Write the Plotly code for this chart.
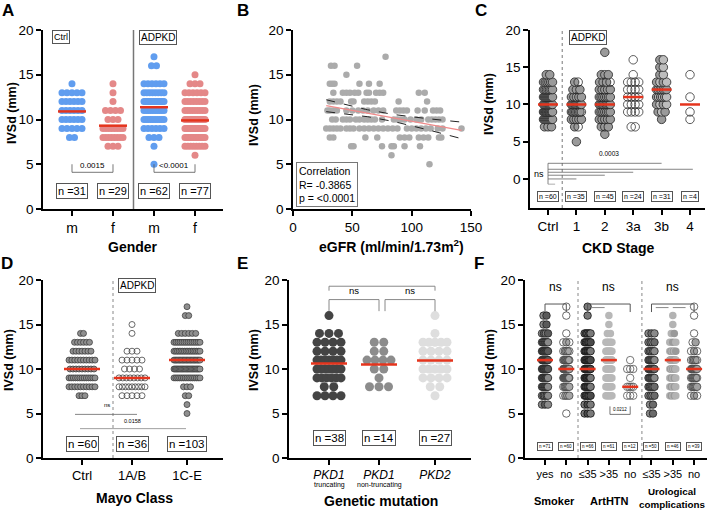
import numpy as np
import plotly.graph_objects as go

# ======================= DATA =======================
# IVSd value (mm) : number of patients
# Panel A – gender
a_ctrl_m = {14: 1, 13: 5, 12: 6, 11: 6, 10: 6, 9: 5, 8: 2}
a_ctrl_f = {14: 1, 13: 1, 12: 1, 11: 4, 10: 3, 9: 8, 8: 8, 7: 3}
a_adpkd_m = {17: 1, 16: 2, 14: 6, 13: 8, 12: 14, 11: 10, 10: 10, 9: 6, 8: 3, 7: 1, 5: 1}
a_adpkd_f = {15: 1, 14: 3, 13: 6, 12: 8, 11: 9, 10: 14, 9: 14, 8: 13, 7: 8, 6: 1}
a_ticks = ["m", "f", "m", "f"]
a_n = ["n =31", "n =29", "n =62", "n =77"]
a_p = ["0.0015", "&lt;0.0001"]

# Panel B – IVSd row : eGFR values
b_rows = {
    17: [78],
    16: [32, 35, 54],
    15: [45],
    14: [31, 33, 35, 56, 64, 73],
    13: [34, 42, 45, 48, 52, 55, 62, 64, 70, 73, 76, 106, 111],
    12: [31, 34, 37, 40, 49, 51, 60, 63, 66, 69, 89, 113],
    11: [29, 31, 34, 37, 45, 50, 55, 59, 63, 68, 72, 76, 87, 90, 93, 96, 105, 111, 118, 121, 124],
    10: [33, 36, 42, 45, 48, 53, 56, 60, 63, 66, 69, 75, 85, 88, 91, 94, 99, 104, 108, 114, 117, 120, 123, 126],
    9: [28, 31, 34, 37, 40, 45, 48, 51, 56, 60, 64, 68, 72, 76, 80, 84, 88, 96, 100, 104, 108, 112, 116, 122, 126, 142],
    8: [31, 34, 61, 71, 90, 94, 98, 106, 110, 114, 123, 125],
    7: [49, 51, 75, 83, 85, 94, 107],
    6: [83],
    5: [115],
}
b_stats = "Correlation<br>R= -0.3865<br>p = &lt;0.0001"

# Panel C – CKD stage
c_ctrl = {14: 2, 13: 6, 12: 7, 11: 10, 10: 9, 9: 13, 8: 10, 7: 3}
c_stage1 = {13: 2, 12: 3, 11: 5, 10: 9, 9: 8, 8: 5, 7: 2, 5: 1}
c_stage2 = {17: 1, 14: 3, 13: 4, 12: 5, 11: 7, 10: 9, 9: 7, 8: 5, 7: 3, 6: 1}
c_stage3a = {16: 1, 14: 1, 13: 4, 12: 4, 11: 4, 10: 4, 9: 4, 7: 2}
c_stage3b = {16: 2, 15: 2, 14: 2, 13: 4, 12: 7, 11: 6, 10: 4, 9: 3, 8: 1}
c_stage4 = {14: 1, 11: 1, 9: 1, 8: 1}
c_ticks = ["Ctrl", "1", "2", "3a", "3b", "4"]
c_n = ["n =60", "n =35", "n =45", "n =24", "n =31", "n =4"]

# Panel D – Mayo class
d_ctrl = {14: 2, 13: 6, 12: 7, 11: 10, 10: 9, 9: 13, 8: 10, 7: 3}
d_1ab = {15: 1, 14: 1, 12: 3, 11: 5, 10: 4, 9: 8, 8: 9, 7: 5}
d_1ce = {17: 1, 16: 2, 14: 6, 13: 14, 12: 16, 11: 20, 10: 22, 9: 15, 8: 3, 7: 2, 6: 1, 5: 1}
d_ticks = ["Ctrl", "1A/B", "1C-E"]
d_n = ["n =60", "n =36", "n =103"]

# Panel E – genetic mutation
e_pkd1_trunc = {16: 1, 14: 3, 13: 4, 12: 4, 11: 7, 10: 7, 9: 6, 8: 2, 7: 4}
e_pkd1_nontrunc = {13: 2, 12: 2, 11: 4, 10: 2, 9: 1, 8: 3}
e_pkd2 = {16: 1, 14: 1, 13: 5, 12: 4, 11: 4, 10: 5, 9: 4, 8: 2, 7: 1}
e_ticks = ["<i>PKD1</i>", "<i>PKD1</i>", "<i>PKD2</i>"]
e_sub = ["truncating", "non-truncating", ""]
e_n = ["n =38", "n =14", "n =27"]

# Panel F – smoker / arterial hypertension / urological complications
f_smoker_yes = {16: 2, 15: 2, 14: 4, 13: 7, 12: 10, 11: 12, 10: 10, 9: 9, 8: 7, 7: 5, 6: 3}
f_smoker_no = {17: 1, 16: 1, 14: 1, 13: 3, 12: 5, 11: 9, 10: 16, 9: 13, 8: 6, 7: 4, 5: 1}
f_htn_le35 = {17: 1, 16: 1, 14: 5, 13: 6, 12: 7, 11: 8, 10: 10, 9: 9, 8: 7, 7: 6, 6: 3, 5: 3}
f_htn_gt35 = {16: 1, 15: 1, 14: 2, 13: 5, 12: 9, 11: 14, 10: 8, 9: 8, 8: 7, 7: 6}
f_htn_no = {11: 1, 10: 3, 9: 1, 8: 4, 7: 3}
f_uro_le35 = {14: 3, 13: 4, 12: 5, 11: 7, 10: 10, 9: 7, 8: 6, 7: 4, 6: 2, 5: 2}
f_uro_gt35 = {16: 1, 15: 1, 14: 2, 13: 3, 12: 6, 11: 11, 10: 7, 9: 5, 8: 5, 7: 5}
f_uro_no = {17: 1, 16: 1, 14: 1, 13: 2, 12: 3, 11: 5, 10: 10, 9: 7, 8: 6, 7: 3}
f_ticks = ["yes", "no", "≤35", ">35", "no", "≤35", ">35", "no"]
f_groups = ["Smoker", "ArtHTN", "Urological<br>complications"]
f_n = ["n =71", "n =60", "n =66", "n =61", "n =12", "n =50", "n =46", "n =39"]

# ======================= HELPERS =======================
W, H = 708, 512
FONT = "Liberation Sans, Arial, Helvetica, sans-serif"
RED = "#e5341d"
OPEN = "rgba(255,255,255,0)"


def expand(counts):
    out = []
    for v in sorted(counts):
        out += [v] * counts[v]
    return np.array(out, dtype=float)


def swarm(counts, center, d, maxw):
    xs, ys, idx = [], [], []
    for v in sorted(counts):
        k = counts[v]
        step = d if k <= 1 else min(d, maxw / (k - 1))
        for i in range(k):
            xs.append(center + (i - (k - 1) / 2) * step)
            ys.append(v)
            idx.append(i)
    return xs, ys, idx


def px(x):
    return x / W


def py(y):
    return 1 - y / H


# panel geometry: pixel box, category pixel-per-unit
PAN = {
    1: dict(bx=(43, 223), by=(30, 209), xr=[-0.707, 3.683], yr=[0, 20], ppu=41.0),
    2: dict(bx=(293, 471), by=(30, 209), xr=[0, 150], yr=[0, 20], ppu=None),
    3: dict(bx=(530, 705), by=(30, 208), xr=[-0.634, 5.528], yr=[-3.9, 20], ppu=28.4),
    4: dict(bx=(43, 223), by=(280, 458), xr=[-0.78, 2.82], yr=[0, 20], ppu=50.0),
    5: dict(bx=(289, 471), by=(280, 458), xr=[-0.8, 2.84], yr=[0, 20], ppu=50.0),
    6: dict(bx=(525, 707), by=(280, 458), xr=[-0.939, 7.606], yr=[0, 20], ppu=21.3),
}


def ax(k, kind):
    return (kind if k == 1 else f"{kind}{k}")


fig = go.Figure()
shapes = []
anns = []


def add_swarm(k, counts, center, size, d_px, maxw_px, fill, line_color=None,
              line_w=0.0, alt=None, opacity=1.0, stat="median", hw_px=10):
    ppu = PAN[k]["ppu"]
    xs, ys, idx = swarm(counts, center, d_px / ppu, maxw_px / ppu)
    if alt is not None:
        cols = [fill if i % 2 == 0 else alt for i in idx]
    else:
        cols = fill
    fig.add_trace(go.Scatter(
        x=xs, y=ys, mode="markers", xaxis=ax(k, "x"), yaxis=ax(k, "y"),
        opacity=opacity, hoverinfo="skip",
        marker=dict(size=size, color=cols,
                    line=dict(color=line_color or "rgba(0,0,0,0)", width=line_w))))
    vals = expand(counts)
    m = np.mean(vals) if stat == "mean" else np.median(vals)
    hw = hw_px / ppu
    shapes.append(dict(type="line", xref=ax(k, "x"), yref=ax(k, "y"),
                       x0=center - hw, x1=center + hw, y0=m, y1=m,
                       line=dict(color=RED, width=2.5)))


def seg(k, x0, y0, x1, y1, color="#666", width=1.0, dash=None):
    ln = dict(color=color, width=width)
    if dash:
        ln["dash"] = dash
    shapes.append(dict(type="line", xref=ax(k, "x"), yref=ax(k, "y"),
                       x0=x0, y0=y0, x1=x1, y1=y1, line=ln))


def txt(text, x, y, k=None, size=10, box=False, bold=False, **kw):
    t = f"<b>{text}</b>" if bold else text
    a = dict(text=t, x=x, y=y, showarrow=False, xanchor="center", yanchor="middle",
             font=dict(family=FONT, size=size, color="black"),
             xref=ax(k, "x") if k else "paper", yref=ax(k, "y") if k else "paper")
    if box:
        a.update(bordercolor="#555", borderwidth=1, borderpad=1, bgcolor="white")
    a.update(kw)
    anns.append(a)


# ======================= PANEL A =======================
BLUE, PINK = "#4f93ee", "#e27c7c"
for cnt, c, col in [(a_ctrl_m, 0, BLUE), (a_ctrl_f, 1, PINK), (a_adpkd_m, 2, BLUE), (a_adpkd_f, 3, PINK)]:
    add_swarm(1, cnt, c, 7, 5.0, 20, col, opacity=0.9, stat="mean", hw_px=14)
seg(1, 1.5, 0, 1.5, 20, color="#777", width=1.5)
for i, (a0, a1) in enumerate([(0, 1), (2, 3)]):
    seg(1, a0, 4.1, a1, 4.1, color="#555", width=0.8)
    seg(1, a0, 4.1, a0, 5.0, color="#555", width=0.8)
    seg(1, a1, 4.1, a1, 5.0, color="#555", width=0.8)
    txt(a_p[i], (a0 + a1) / 2, 4.85, k=1, size=8)
for i, t in enumerate(a_n):
    txt(t, i, 2.0, k=1, size=11, box=True)
txt("Ctrl", px(61), py(37), size=9, box=True)
txt("ADPKD", px(158), py(37), size=10, box=True)

# ======================= PANEL B =======================
bx, by = [], []
for v in sorted(b_rows):
    for e in b_rows[v]:
        bx.append(e)
        by.append(v)
bx, by = np.array(bx, float), np.array(by, float)
fig.add_trace(go.Scatter(x=bx, y=by, mode="markers", xaxis="x2", yaxis="y2", hoverinfo="skip",
                         marker=dict(size=6.5, color="#ababab")))
nb = len(bx)
slope, icpt = np.polyfit(bx, by, 1)
xg = np.linspace(bx.min(), bx.max(), 80)
yh = icpt + slope * xg
s = np.sqrt(np.sum((by - (icpt + slope * bx)) ** 2) / (nb - 2))
sxx = np.sum((bx - bx.mean()) ** 2)
ci = 1.98 * s * np.sqrt(1 / nb + (xg - bx.mean()) ** 2 / sxx)
fig.add_trace(go.Scatter(x=xg, y=yh, mode="lines", xaxis="x2", yaxis="y2", hoverinfo="skip",
                         line=dict(color="#f08a8a", width=1.2)))
for sign in (1, -1):
    fig.add_trace(go.Scatter(x=xg, y=yh + sign * ci, mode="lines", xaxis="x2", yaxis="y2",
                             hoverinfo="skip", line=dict(color="#222", width=1, dash="dash")))
txt(b_stats, px(296), py(162), size=10.5, xanchor="left", yanchor="top", align="left",
    bordercolor="#777", borderwidth=1, borderpad=2, bgcolor="white")

# ======================= PANEL C =======================
GR = "#9a9a9a"
add_swarm(3, c_ctrl, 0, 8.5, 3.5, 9, GR, "#222", 0.8, hw_px=10)
add_swarm(3, c_stage1, 1, 8.5, 3.5, 10, GR, "#222", 0.8, alt=OPEN, hw_px=10)
add_swarm(3, c_stage2, 2, 8.5, 3.5, 11, GR, "#222", 0.8, alt=OPEN, hw_px=10)
add_swarm(3, c_stage3a, 3, 8.5, 4, 11, OPEN, "#333", 0.8, hw_px=10)
add_swarm(3, c_stage3b, 4, 8.5, 3.5, 10, GR, "#222", 0.8, alt="#bdbdbd", hw_px=10)
add_swarm(3, c_stage4, 5, 8.5, 4, 10, OPEN, "#333", 0.8, hw_px=10)
seg(3, 0.5, -3.9, 0.5, 20, color="#777", width=1, dash="dot")
for yy, xe in [(2.1, 4), (1.3, 5.1), (0.9, 3), (0.5, 2), (0.0, 1)]:
    seg(3, 0, yy, xe, yy, color="#666", width=0.8)
seg(3, 0, -0.7, 0, 2.1, color="#666", width=0.8)
seg(3, 0, -0.7, 0.25, -0.7, color="#999", width=0.8)
txt("ns", -0.3, 0.7, k=3, size=9)
txt("0.0003", 2.15, 3.4, k=3, size=6.5)
for i, t in enumerate(c_n):
    txt(t, i, -2.4, k=3, size=7, box=True)
txt("ADPKD", px(588), py(37), size=10, box=True)

# ======================= PANEL D =======================
add_swarm(4, d_ctrl, 0, 6, 3, 26, "#8f8f8f", "#333", 0.7, hw_px=18)
add_swarm(4, d_1ab, 1, 6, 5, 26, OPEN, "#444", 0.8, hw_px=18)
add_swarm(4, d_1ce, 2.1, 6, 3.5, 26, "#8f8f8f", "#333", 0.7, hw_px=18)
seg(4, 0.62, 0, 0.62, 20, color="#888", width=1, dash="dot")
seg(4, -0.14, 4.9, 1.1, 4.9, color="#666", width=0.8)
seg(4, -0.04, 3.3, 2.08, 3.3, color="#888", width=0.8)
txt("ns", 0.5, 6.0, k=4, size=6)
txt("0.0158", 1.0, 4.2, k=4, size=5.5)
for i, (t, c) in enumerate(zip(d_n, [0, 1, 2.1])):
    txt(t, c, 1.6, k=4, size=11.5, box=True)
txt("ADPKD", px(137), py(285), size=10, box=True)

# ======================= PANEL E =======================
E_POS = [0, 1, 2.12]
add_swarm(5, e_pkd1_trunc, E_POS[0], 9, 9.5, 24, "#444444", stat="mean", hw_px=18)
add_swarm(5, e_pkd1_nontrunc, E_POS[1], 9, 9.5, 24, "#8c8c8c", stat="mean", hw_px=18)
add_swarm(5, e_pkd2, E_POS[2], 9, 9.5, 24, "#dedede", stat="mean", hw_px=18)
BC = "#888"
seg(5, E_POS[0], 19.3, E_POS[2], 19.3, color=BC)
seg(5, E_POS[0], 19.3, E_POS[0], 18.8, color=BC)
seg(5, E_POS[2], 19.3, E_POS[2], 18.8, color=BC)
txt("ns", (E_POS[0] + E_POS[2]) / 2, 20.4, k=5, size=9.5)
for a0, a1 in [(E_POS[0], E_POS[1]), (E_POS[1] + 0.12, E_POS[2])]:
    seg(5, a0, 17.8, a1, 17.8, color=BC)
    seg(5, a0, 17.8, a0, 16.5, color=BC)
    seg(5, a1, 17.8, a1, 16.5, color=BC)
    txt("ns", (a0 + a1) / 2, 18.8, k=5, size=9.5)
for i, t in enumerate(e_n):
    txt(t, E_POS[i], 2.2, k=5, size=11.5, box=True)
for i, t in enumerate(e_sub):
    if t:
        txt(t, px(329 + 50 * i), py(485), size=7)

# ======================= PANEL F =======================
fspec = [
    (f_smoker_yes, "#8a8a8a", "#222", 0.8, "#5a5a5a"),
    (f_smoker_no, OPEN, "#444", 0.8, "#a5a5a5"),
    (f_htn_le35, "#7a7a7a", "#111", 0.8, "#4a4a4a"),
    (f_htn_gt35, "#b8b8b8", None, 0.0, None),
    (f_htn_no, OPEN, "#555", 0.8, None),
    (f_uro_le35, "#8a8a8a", "#222", 0.8, "#6a6a6a"),
    (f_uro_gt35, "#b3b3b3", None, 0.0, "#9a9a9a"),
    (f_uro_no, OPEN, "#444", 0.8, "#a0a0a0"),
]
for i, (cnt, fill, lc, lw, alt) in enumerate(fspec):
    add_swarm(6, cnt, i, 7.5, 3, 6, fill, lc, lw, alt=alt, hw_px=8)
seg(6, 1.55, 0, 1.55, 20, color="#888", width=1, dash="dot")
seg(6, 4.55, 0, 4.55, 20, color="#888", width=1, dash="dot")
for a0, a1 in [(0, 1), (2, 4), (5, 7)]:
    seg(6, a0, 17.3, a1, 17.3, color="#555", width=1)
    seg(6, a0, 17.3, a0, 16.4, color="#555", width=1)
    seg(6, a1, 17.3, a1, 16.4, color="#555", width=1)
    txt("ns", (a0 + a1) / 2, 19.2, k=6, size=12)
seg(6, 2.2, 16.9, 2.8, 16.9, color="#888", width=1)
seg(6, 5.2, 16.9, 5.8, 16.9, color="#888", width=1)
seg(6, 6.0, 16.9, 6.6, 16.9, color="#888", width=1)
seg(6, 3.05, 4.9, 4.0, 4.9, color="#555", width=0.8)
seg(6, 3.05, 4.9, 3.05, 5.8, color="#555", width=0.8)
seg(6, 4.0, 4.9, 4.0, 5.8, color="#555", width=0.8)
txt("0.0212", 3.52, 5.45, k=6, size=4.5)
for i, t in enumerate(f_n):
    txt(t, i, 1.3, k=6, size=4.5, box=True)
txt(f_groups[0], px(554), py(501), size=11, bold=True)
txt(f_groups[1], px(609), py(501), size=11, bold=True)
txt(f_groups[2], px(672), py(498), size=9.8, bold=True)

# ======================= AXIS TITLES & LETTERS =======================
for x0, yc in [(12, 113), (254, 115), (489, 104), (9, 360), (254, 360), (490, 360)]:
    txt("IVSd (mm)", px(x0), py(yc), size=12.5, bold=True, textangle=-90)
txt("Gender", px(133), py(247), size=14, bold=True)
txt("eGFR (ml/min/1.73m<sup>2</sup>)", px(391), py(246), size=14, bold=True)
txt("CKD Stage", px(618), py(248), size=14, bold=True)
txt("Mayo Class", px(134), py(498), size=14, bold=True)
txt("Genetic mutation", px(381), py(501), size=14, bold=True)
for L, xl, yl in [("A", 8, 10), ("B", 243, 10), ("C", 481, 10), ("D", 7, 263), ("E", 242, 263), ("F", 479, 263)]:
    txt(L, px(xl), py(yl), size=17, bold=True)

# ======================= LAYOUT =======================
base_ax = dict(showline=True, linecolor="black", linewidth=1.5, ticks="outside", ticklen=5,
               tickwidth=1.5, tickcolor="black", showgrid=False, zeroline=False,
               automargin=False, fixedrange=True,
               tickfont=dict(family=FONT, size=13.5, color="black"))
layout = dict(width=W, height=H, margin=dict(l=0, r=0, t=0, b=0, autoexpand=False), autosize=False,
              plot_bgcolor="white", paper_bgcolor="white", showlegend=False,
              font=dict(family=FONT, color="black"), shapes=shapes, annotations=anns)

xt = {
    1: (list(range(4)), a_ticks, 14),
    2: ([0, 50, 100, 150], ["0", "50", "100", "150"], 13.5),
    3: (list(range(6)), c_ticks, 13.5),
    4: ([0, 1, 2.1], d_ticks, 13),
    5: (E_POS, e_ticks, 12),
    6: (list(range(8)), f_ticks, 11),
}
for k, sp in PAN.items():
    tv, tt, fs = xt[k]
    xa = dict(base_ax)
    xa.update(domain=[px(sp["bx"][0]), px(sp["bx"][1])], range=sp["xr"], anchor=ax(k, "y"),
              tickvals=tv, ticktext=tt, tickangle=0,
              tickfont=dict(family=FONT, size=fs, color="black"))
    ya = dict(base_ax)
    ya.update(domain=[py(sp["by"][1]), py(sp["by"][0])], range=sp["yr"], anchor=ax(k, "x"),
              tickvals=[0, 5, 10, 15, 20])
    layout["xaxis" if k == 1 else f"xaxis{k}"] = xa
    layout["yaxis" if k == 1 else f"yaxis{k}"] = ya

fig.update_layout(**layout)
fig.write_html("out.html", config={"displayModeBar": False},
               post_script="document.body.style.margin='0';document.body.style.padding='0';")
